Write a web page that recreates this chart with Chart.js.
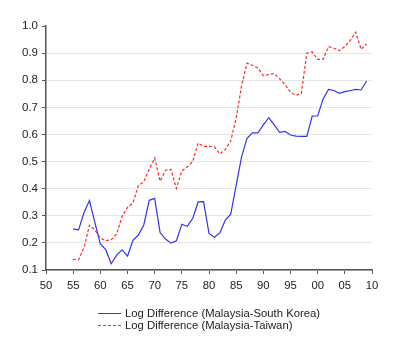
<!DOCTYPE html>
<html>
<head>
<meta charset="utf-8">
<script src="https://cdn.jsdelivr.net/npm/chart.js@4/dist/chart.umd.min.js"></script>
<style>
  html, body { margin: 0; padding: 0; background: #fff; }
  #wrap { width: 400px; height: 358px; position: relative; }
</style>
</head>
<body>
<div id="wrap"><canvas id="c" width="400" height="358"></canvas></div>
<script>
const years = [];
for (let y = 1955; y <= 2009; y++) years.push(y);

const koreaLabel = 'Log Difference (Malaysia-South Korea)';
const taiwanLabel = 'Log Difference (Malaysia-Taiwan)';

const korea = [
  0.252, 0.248, 0.312, 0.356, 0.275, 0.196, 0.175, 0.123, 0.155, 0.174,
  0.151, 0.209, 0.229, 0.266, 0.357, 0.364, 0.238, 0.214, 0.199, 0.208,
  0.269, 0.261, 0.290, 0.351, 0.352, 0.235, 0.221, 0.237, 0.284, 0.306,
  0.412, 0.518, 0.586, 0.606, 0.606, 0.635, 0.662, 0.635, 0.608, 0.611,
  0.598, 0.594, 0.593, 0.593, 0.668, 0.668, 0.731, 0.766, 0.762, 0.752,
  0.758, 0.762, 0.766, 0.764, 0.797
];

const taiwan = [
  0.139, 0.137, 0.183, 0.265, 0.247, 0.218, 0.208, 0.212, 0.232, 0.298,
  0.331, 0.347, 0.412, 0.425, 0.473, 0.513, 0.428, 0.468, 0.471, 0.401,
  0.465, 0.480, 0.500, 0.568, 0.556, 0.556, 0.554, 0.528, 0.545, 0.576,
  0.660, 0.780, 0.863, 0.855, 0.845, 0.817, 0.821, 0.825, 0.805, 0.784,
  0.756, 0.744, 0.752, 0.900, 0.904, 0.877, 0.877, 0.924, 0.918, 0.909,
  0.924, 0.947, 0.977, 0.914, 0.934
];

const xTickValues = [1950, 1955, 1960, 1965, 1970, 1975, 1980, 1985, 1990, 1995, 2000, 2005, 2010];
const xTickLabels = ['50', '55', '60', '65', '70', '75', '80', '85', '90', '95', '00', '05', '10'];
const yTickLabels = ['0.1', '0.2', '0.3', '0.4', '0.5', '0.6', '0.7', '0.8', '0.9', '1.0'];

const FONT = 'Liberation Sans, Arial, sans-serif';
const AXIS = '#555555';

const legendPlugin = {
  id: 'customLegend',
  afterDraw(chart) {
    const ctx = chart.ctx;
    const rows = [313, 325];
    chart.data.datasets.forEach((ds, i) => {
      const y = rows[i];
      ctx.save();
      ctx.strokeStyle = ds.borderColor;
      ctx.lineWidth = 1;
      ctx.setLineDash(ds.borderDash || []);
      ctx.beginPath();
      ctx.moveTo(98, y + 0.5);
      ctx.lineTo(121, y + 0.5);
      ctx.stroke();
      ctx.setLineDash([]);
      ctx.fillStyle = '#222';
      ctx.font = '11.3px ' + FONT;
      ctx.textBaseline = 'middle';
      ctx.textAlign = 'left';
      ctx.fillText(ds.label, 125, y + 1);
      ctx.restore();
    });
  }
};

new Chart(document.getElementById('c'), {
  type: 'line',
  data: {
    datasets: [
      {
        label: koreaLabel,
        data: years.map((yr, i) => ({ x: yr, y: korea[i] })),
        borderColor: '#3434f0',
        borderWidth: 1.2,
        pointRadius: 0,
        tension: 0,
        fill: false
      },
      {
        label: taiwanLabel,
        data: years.map((yr, i) => ({ x: yr, y: taiwan[i] })),
        borderColor: '#ff2a2a',
        borderWidth: 1.2,
        borderDash: [3, 2],
        pointRadius: 0,
        tension: 0,
        fill: false
      }
    ]
  },
  options: {
    responsive: false,
    animation: false,
    events: [],
    layout: { padding: { left: 0, right: 28, top: 26, bottom: 0 } },
    plugins: {
      legend: { display: false },
      tooltip: { enabled: false }
    },
    scales: {
      x: {
        type: 'linear',
        min: 1950,
        max: 2010,
        afterBuildTicks(scale) {
          scale.ticks = xTickValues.map(v => ({ value: v }));
        },
        afterFit(scale) { scale.height = 88; },
        ticks: {
          autoSkip: false,
          maxRotation: 0,
          padding: 5,
          color: '#222',
          font: { family: FONT, size: 11.3 },
          callback: (v) => xTickLabels[xTickValues.indexOf(v)]
        },
        grid: {
          drawOnChartArea: false,
          drawTicks: true,
          tickLength: 4,
          tickColor: AXIS,
          tickWidth: 1
        },
        border: { display: true, color: AXIS, width: 1.5 }
      },
      y: {
        type: 'linear',
        min: 0.1,
        max: 1.0,
        afterBuildTicks(scale) {
          scale.ticks = yTickLabels.map(s => ({ value: parseFloat(s) }));
        },
        afterFit(scale) { scale.width = 46; },
        ticks: {
          autoSkip: false,
          padding: 4,
          color: '#222',
          font: { family: FONT, size: 11.5 },
          callback: (v) => yTickLabels.find(s => Math.abs(parseFloat(s) - v) < 1e-6)
        },
        grid: {
          drawTicks: true,
          tickLength: 4,
          tickColor: AXIS,
          tickWidth: 1,
          color: (c) => (c.tick && Math.abs(c.tick.value - 1.0) < 1e-6) ? 'rgba(0,0,0,0)' : '#e6e6e6',
          lineWidth: 1
        },
        border: { display: true, color: AXIS, width: 1.5 }
      }
    }
  },
  plugins: [legendPlugin]
});
</script>
</body>
</html>
